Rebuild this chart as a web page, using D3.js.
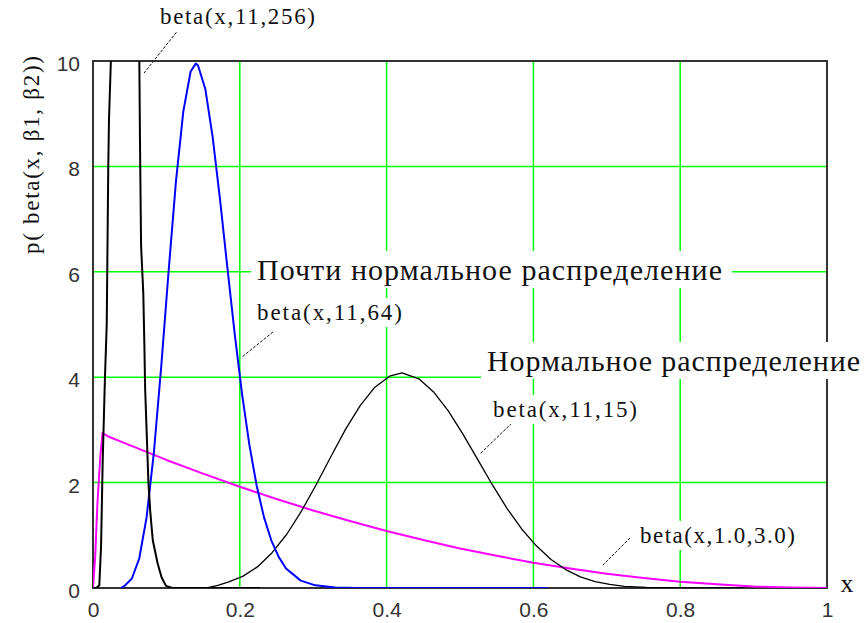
<!DOCTYPE html>
<html>
<head>
<meta charset="utf-8">
<style>
body {
	margin: 0;
	background: #fff;
}
.tick text {
	font-family: "Liberation Sans", Arial, sans-serif;
	font-size: 21px;
	fill: #333;
}
.note {
	font-family: "Liberation Serif", "Times New Roman", serif;
	fill: #111;
}
</style>
</head>
<body>

<script src="https://d3js.org/d3.v7.min.js"></script>
<script>

let width = 864, height = 623;
let margin = {top: 61, right: 37, bottom: 35, left: 93};

let xTicks = [0, 0.2, 0.4, 0.6, 0.8, 1];
let yTicks = [0, 2, 4, 6, 8, 10];

// beta(x,11,256) - black, goes off the top
let b256X = [0, 0.005, 0.0086, 0.011, 0.0132, 0.0163, 0.0187, 0.0208, 0.0218, 0.0255, 0.03, 0.038, 0.05, 0.06, 0.063, 0.064, 0.0655, 0.0685, 0.07, 0.071, 0.0755, 0.078, 0.0815, 0.088, 0.0935, 0.0995, 0.108, 0.228];
let b256Y = [0, 0.005, 0.05, 0.8, 2.4, 4.0, 5.0, 8.0, 8.9, 10.5, 22, 34, 26, 14, 10.2, 8.5, 6.5, 5.6, 4.6, 3.8, 2.0, 1.45, 0.9, 0.47, 0.2, 0.04, 0, 0];

// beta(x,11,64) - blue
let b64X = [0.038, 0.043, 0.053, 0.063, 0.073, 0.083, 0.093, 0.103, 0.113, 0.123, 0.133, 0.140, 0.143, 0.153, 0.163, 0.173, 0.183, 0.193, 0.203, 0.213, 0.223, 0.233, 0.243, 0.253, 0.263, 0.283, 0.303, 0.33, 0.36, 0.62];
let b64Y = [0, 0.04, 0.18, 0.56, 1.34, 2.58, 4.21, 6.01, 7.71, 9.04, 9.80, 9.95, 9.92, 9.47, 8.56, 7.38, 6.09, 4.83, 3.69, 2.72, 1.94, 1.34, 0.90, 0.59, 0.37, 0.14, 0.05, 0.01, 0, 0];

// beta(x,11,15) - black bell
let b15X = [0.155, 0.17, 0.184, 0.204, 0.224, 0.244, 0.264, 0.284, 0.304, 0.324, 0.344, 0.364, 0.384, 0.404, 0.421, 0.444, 0.464, 0.484, 0.504, 0.524, 0.544, 0.564, 0.584, 0.604, 0.624, 0.644, 0.664, 0.684, 0.704, 0.724, 0.754, 0.8, 0.887];
let b15Y = [0, 0.05, 0.11, 0.22, 0.40, 0.67, 1.02, 1.46, 1.96, 2.49, 3.01, 3.46, 3.81, 4.02, 4.08, 3.97, 3.72, 3.36, 2.92, 2.44, 1.96, 1.51, 1.12, 0.80, 0.54, 0.35, 0.21, 0.12, 0.07, 0.03, 0.01, 0, 0];

// beta(x,1.0,3.0) - magenta
let b13X = [0, 0.003, 0.006, 0.01, 0.013, 0.02, 0.05, 0.1, 0.15, 0.2, 0.25, 0.3, 0.35, 0.4, 0.45, 0.5, 0.55, 0.6, 0.65, 0.7, 0.75, 0.8, 0.85, 0.9, 0.95, 1.0];
let b13Y = [0, 0.6, 1.6, 2.5, 2.94, 2.88, 2.71, 2.43, 2.17, 1.92, 1.69, 1.47, 1.27, 1.08, 0.91, 0.75, 0.61, 0.48, 0.37, 0.27, 0.19, 0.12, 0.07, 0.03, 0.01, 0];

let noteTexts = ['beta(x,11,256)', 'Почти нормальное распределение', 'beta(x,11,64)', 'Нормальное распределение', 'beta(x,11,15)', 'beta(x,1.0,3.0)'];

// placement of the notes (data units), kept apart from the values
let notes = [
	{x: 0.0913, y: 10.70, len: 155, size: 23, lead: [0.1213, 10.68, 0.0695, 9.77]},
	{x: 0.2234, y: 5.844, len: 465, size: 30, lead: null},
	{x: 0.2234, y: 5.085, len: 145, size: 23, lead: [0.2452, 4.858, 0.203, 4.383]},
	{x: 0.5368, y: 4.118, len: 373, size: 30, lead: null},
	{x: 0.545, y: 3.245, len: 144, size: 23, lead: [0.5708, 3.131, 0.5272, 2.543]},
	{x: 0.7452, y: 0.854, len: 155, size: 23, lead: [0.7316, 0.949, 0.6948, 0.436]}
];

let svg = d3.select('body').append('svg')
	.attr('width', width)
	.attr('height', height);

let x = d3.scaleLinear().domain([0, 1]).range([margin.left, width - margin.right]);
let y = d3.scaleLinear().domain([0, 10]).range([height - margin.bottom, margin.top]);

svg.append('clipPath').attr('id', 'plot')
	.append('rect')
	.attr('x', x(0)).attr('y', y(10))
	.attr('width', x(1) - x(0)).attr('height', y(0) - y(10));

// green grid
svg.append('g').selectAll('line').data(xTicks.slice(1, -1)).join('line')
	.attr('x1', d => x(d)).attr('x2', d => x(d))
	.attr('y1', y(0)).attr('y2', y(10))
	.attr('stroke', '#00ff00').attr('stroke-width', 1.5);

svg.append('g').selectAll('line').data(yTicks.slice(1, -1)).join('line')
	.attr('y1', d => y(d)).attr('y2', d => y(d))
	.attr('x1', x(0)).attr('x2', x(1))
	.attr('stroke', '#00ff00').attr('stroke-width', 1.5);

// axes
svg.append('g')
	.attr('transform', 'translate(' + x(0) + ',0)')
	.call(d3.axisLeft(y).tickValues(yTicks).tickSize(0).tickPadding(13))
	.call(g => g.select('.domain').remove())
	.selectAll('text').attr('dy', '0.45em');

svg.append('g')
	.attr('transform', 'translate(0,' + y(0) + ')')
	.call(d3.axisBottom(x).tickValues(xTicks).tickSize(0).tickPadding(14).tickFormat(d => String(d)))
	.call(g => g.select('.domain').remove());

// frame
svg.append('rect')
	.attr('x', x(0)).attr('y', y(10))
	.attr('width', x(1) - x(0)).attr('height', y(0) - y(10))
	.attr('fill', 'none').attr('stroke', '#333').attr('stroke-width', 2);

// curves
let line = d3.line().x(d => x(d[0])).y(d => y(d[1]));

let curves = [
	{xs: b13X, ys: b13Y, color: '#ff00ff', w: 2},
	{xs: b15X, ys: b15Y, color: '#000', w: 1.3},
	{xs: b64X, ys: b64Y, color: '#0000ff', w: 2},
	{xs: b256X, ys: b256Y, color: '#000', w: 2}
];

svg.append('g').attr('clip-path', 'url(#plot)')
	.selectAll('path').data(curves).join('path')
	.attr('d', c => line(d3.zip(c.xs, c.ys)))
	.attr('fill', 'none')
	.attr('stroke', c => c.color)
	.attr('stroke-width', c => c.w)
	.attr('stroke-linejoin', 'round');

// leader lines
svg.append('g').selectAll('line').data(notes.filter(n => n.lead)).join('line')
	.attr('x1', n => x(n.lead[0])).attr('y1', n => y(n.lead[1]))
	.attr('x2', n => x(n.lead[2])).attr('y2', n => y(n.lead[3]))
	.attr('stroke', '#111').attr('stroke-width', 1)
	.attr('stroke-dasharray', '3,1.5');

// notes with white boxes
let noteG = svg.append('g').selectAll('g').data(notes).join('g');

let boxes = noteG.append('rect').attr('fill', '#fff');

noteG.append('text')
	.attr('class', 'note')
	.attr('x', n => x(n.x))
	.attr('y', n => y(n.y))
	.attr('font-size', n => n.size)
	.attr('textLength', n => n.len)
	.attr('lengthAdjust', 'spacing')
	.text((n, i) => noteTexts[i]);

boxes.each(function() {
	let b = this.parentNode.querySelector('text').getBBox();
	d3.select(this)
		.attr('x', b.x - 6).attr('y', b.y - 2)
		.attr('width', b.width + 16).attr('height', b.height + 4);
});

// axis titles
svg.append('text')
	.attr('class', 'note')
	.attr('transform', 'translate(39,155) rotate(-90)')
	.attr('text-anchor', 'middle')
	.attr('font-size', 23)
	.attr('textLength', 198)
	.attr('lengthAdjust', 'spacing')
	.text('p( beta(x, β1, β2))');

svg.append('text')
	.attr('class', 'note')
	.attr('x', 847).attr('y', 592)
	.attr('text-anchor', 'middle')
	.attr('font-size', 26)
	.text('x');

</script>
</body>
</html>
